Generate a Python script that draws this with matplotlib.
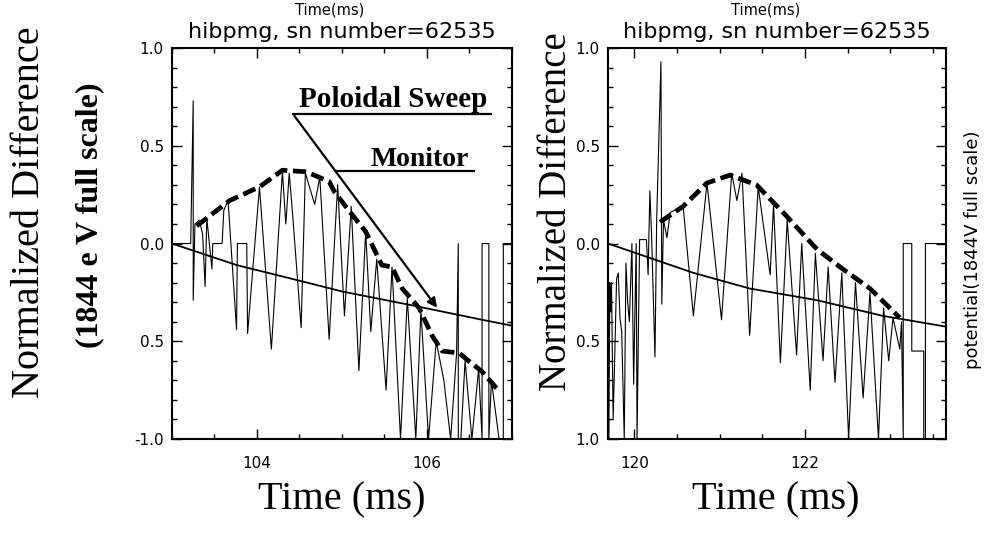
import matplotlib
matplotlib.use("Agg")
import matplotlib.pyplot as plt
from matplotlib.ticker import FixedLocator, FixedFormatter, MultipleLocator

# --- data ---
# shot 62535, left window (103-107 ms)
left_xlim = (103.0, 107.0)
left_trace_t = [103.00, 103.22, 103.25, 103.25, 103.27, 103.32, 103.36, 103.39, 103.41, 103.47,
                103.48, 103.59, 103.61, 103.66, 103.76, 103.77, 103.88, 103.89, 104.03, 104.17,
                104.30, 104.34, 104.38, 104.42, 104.52, 104.57, 104.68, 104.74, 104.85, 104.95,
                105.03, 105.11, 105.20, 105.28, 105.34, 105.41, 105.52, 105.59, 105.69, 105.77,
                105.87, 105.93, 106.02, 106.11, 106.20, 106.28, 106.35, 106.37, 106.37, 106.40,
                106.45, 106.53, 106.61, 106.65, 106.65, 106.73, 106.73, 106.76, 106.85, 106.90,
                106.90, 107.00]
left_trace_v = [0.00, 0.00, 0.73, -0.29, 0.10, 0.12, 0.05, -0.22, 0.13, -0.13,
                0.00, 0.00, 0.17, 0.22, -0.44, 0.00, 0.00, -0.46, 0.29, -0.54,
                0.37, 0.10, 0.36, 0.15, -0.43, 0.36, 0.20, 0.34, -0.49, 0.30,
                -0.37, 0.19, -0.65, 0.06, -0.45, -0.08, -0.75, -0.12, -1.00, -0.28,
                -1.00, -0.34, -1.00, -0.50, -0.70, -1.00, -0.56, 0.00, -1.00, -1.00,
                -0.60, -1.00, -0.64, -1.00, 0.00, 0.00, -1.00, -0.70, -1.00, -1.00,
                0.00, 0.00]
left_env_t = [103.29, 103.68, 104.03, 104.30, 104.58, 104.85, 104.91, 105.09, 105.28, 105.47,
              105.59, 105.71, 105.91, 106.06, 106.18, 106.38, 106.49, 106.65, 106.82]
left_env_v = [0.09, 0.22, 0.29, 0.375, 0.367, 0.317, 0.266, 0.164, 0.061, -0.11,
              -0.12, -0.23, -0.33, -0.47, -0.55, -0.56, -0.60, -0.655, -0.74]
left_mon_t = [103.00, 103.76, 104.50, 105.00, 105.87, 106.65, 107.00]
left_mon_v = [0.00, -0.11, -0.19, -0.245, -0.32, -0.39, -0.42]

# right window (119.7-123.65 ms)
right_xlim = (119.69, 123.65)
right_trace_t = [119.69, 119.70, 119.71, 119.72, 119.73, 119.75, 119.77, 119.79, 119.81, 119.83,
                 119.85, 119.88, 119.90, 119.92, 119.94, 119.97, 119.99, 120.02, 120.03, 120.06,
                 120.14, 120.16, 120.18, 120.20, 120.24, 120.26, 120.31, 120.32, 120.34, 120.38,
                 120.42, 120.57, 120.69, 120.85, 121.02, 121.14, 121.20, 121.26, 121.35, 121.45,
                 121.59, 121.63, 121.71, 121.79, 121.90, 121.96, 122.06, 122.12, 122.21, 122.27,
                 122.35, 122.43, 122.51, 122.59, 122.68, 122.76, 122.86, 122.92, 122.98, 123.03,
                 123.11, 123.13, 123.15, 123.15, 123.25, 123.25, 123.39, 123.39, 123.41, 123.41,
                 123.65]
right_trace_v = [0.00, -1.00, -0.20, -0.35, -0.20, -0.90, -0.55, -0.18, -0.15, -0.38,
                 -0.45, -1.00, -0.10, -0.30, -0.40, 0.00, -0.72, 0.00, -1.00, 0.02,
                 0.02, -0.16, 0.27, 0.05, -0.58, 0.12, 0.93, -0.31, 0.12, 0.03,
                 0.16, 0.19, -0.37, 0.31, -0.39, 0.36, 0.22, 0.36, -0.47, 0.29,
                 -0.16, 0.20, -0.61, 0.12, -0.57, 0.00, -0.75, -0.05, -0.60, -0.12,
                 -0.71, -0.15, -1.00, -0.20, -0.79, -0.25, -1.00, -0.33, -0.60, -0.38,
                 -0.54, -0.40, -1.00, 0.00, 0.00, -0.55, -0.55, -1.00, -1.00, 0.00,
                 0.00]
right_env_t = [120.30, 120.57, 120.85, 121.12, 121.43, 121.74, 122.14, 122.44, 122.76, 123.11]
right_env_v = [0.11, 0.19, 0.31, 0.35, 0.30, 0.16, -0.03, -0.13, -0.23, -0.38]
right_mon_t = [119.69, 120.69, 121.35, 122.14, 122.91, 123.65]
right_mon_v = [0.00, -0.15, -0.23, -0.29, -0.37, -0.425]

ytick_vals = [1.0, 0.5, 0.0, -0.5, -1.0]
left_ytick_text = ['1.0', '0.5', '0.0', '0.5', '-1.0']   # as printed (minus lost in scan)
right_ytick_text = ['1.0', '0.5', '0.0', '0.5', '1.0']
left_xticks = [104, 106]
right_xticks = [120, 122]

title_text = 'hibpmg, sn number=62535'

fig = plt.figure(figsize=(9.85, 5.43), dpi=100)


def make_panel(rect, xlim, xticks, yticklabels, trace, env, mon):
    ax = fig.add_axes(rect)
    ax.plot(trace[0], trace[1], color='black', lw=0.8)
    ax.plot(mon[0], mon[1], color='black', lw=1.3)
    ax.plot(env[0], env[1], color='black', lw=3.4, linestyle=(0, (2.8, 1.2)))
    ax.set_xlim(*xlim)
    ax.set_ylim(-1.0, 1.0)
    ax.xaxis.set_major_locator(FixedLocator(xticks))
    ax.xaxis.set_minor_locator(MultipleLocator(0.5))
    ax.yaxis.set_major_locator(FixedLocator(ytick_vals))
    ax.yaxis.set_major_formatter(FixedFormatter(yticklabels))
    ax.yaxis.set_minor_locator(MultipleLocator(0.1))
    ax.tick_params(which='both', direction='in', top=True, right=True, labelsize=11, width=1.0)
    ax.tick_params(which='major', length=7)
    ax.tick_params(axis='y', which='major', pad=6)
    ax.tick_params(axis='x', which='major', pad=12)
    ax.tick_params(which='minor', length=3.5)
    for s in ax.spines.values():
        s.set_linewidth(1.5)
    ax.set_title(title_text, fontsize=16, pad=7)
    ax.text(0.465, 1.098, 'Time(ms)', transform=ax.transAxes, ha='center', va='center', fontsize=10.5)
    return ax


ax1 = make_panel([0.1746, 0.1915, 0.345, 0.72], left_xlim, left_xticks, left_ytick_text,
                 (left_trace_t, left_trace_v), (left_env_t, left_env_v), (left_mon_t, left_mon_v))
ax2 = make_panel([0.6173, 0.1915, 0.343, 0.72], right_xlim, right_xticks, right_ytick_text,
                 (right_trace_t, right_trace_v), (right_env_t, right_env_v), (right_mon_t, right_mon_v))

# annotations on the left panel
ax1.plot([104.42, 106.76], [0.665, 0.665], color='black', lw=1.6)
ax1.annotate('', xy=(106.14, -0.34), xytext=(104.42, 0.665),
             arrowprops=dict(arrowstyle='-|>', color='black', lw=1.6, mutation_scale=14))
ax1.plot([104.93, 106.55], [0.373, 0.373], color='black', lw=1.6)
ax1.text(104.50, 0.70, 'Poloidal Sweep', family='Liberation Serif', fontsize=21, fontweight='bold')
ax1.text(105.34, 0.395, 'Monitor', family='Liberation Serif', fontsize=20, fontweight='bold')

# big labels around the panels
serif = 'Liberation Serif'
fig.text(0.030, 0.61, 'Normalized Difference', rotation=90, ha='center', va='center',
         family=serif, fontsize=29)
fig.text(0.091, 0.604, '(1844 e V full scale)', rotation=90, ha='center', va='center',
         family=serif, fontsize=23, fontweight='bold')
fig.text(0.565, 0.61, 'Normalized Difference', rotation=90, ha='center', va='center',
         family=serif, fontsize=28)
fig.text(0.988, 0.54, 'potential(1844V full scale)', rotation=90, ha='center', va='center',
         fontsize=13)
fig.text(0.347, 0.08, 'Time (ms)', ha='center', va='center', family=serif, fontsize=29)
fig.text(0.788, 0.08, 'Time (ms)', ha='center', va='center', family=serif, fontsize=29)

fig.savefig('out.png', dpi=100)
